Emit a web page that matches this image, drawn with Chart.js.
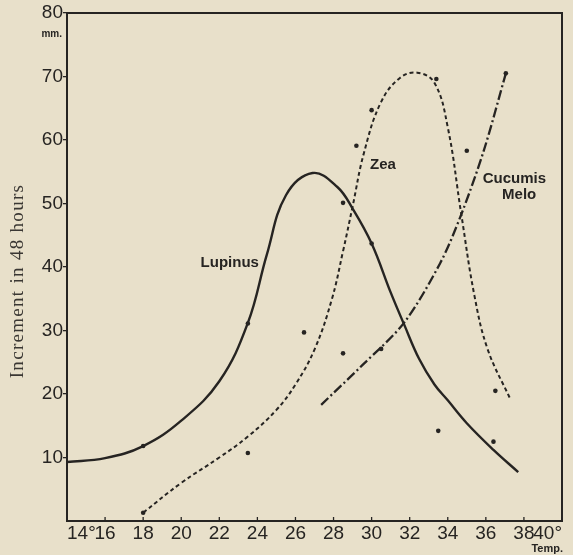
<!DOCTYPE html>
<html>
<head>
<meta charset="utf-8">
<script src="https://cdn.jsdelivr.net/npm/chart.js@4"></script>
<style>
html,body{margin:0;padding:0;background:#e8e0ca;}
canvas{display:block;}
</style>
</head>
<body>
<canvas id="c" width="573" height="555"></canvas>
<script>
// ---- data (temperature °C, increment in mm) ----
const lupinusX = [14, 16, 18, 20, 22, 23.5, 24.5, 25.5, 26.9, 28.2, 29.0, 30.0, 31.0, 31.7, 32.5, 33.3, 34.0, 35.0, 36.4, 37.7];
const lupinusY = [9.3, 9.9, 11.8, 15.8, 22.0, 31.2, 42.0, 51.3, 54.8, 52.6, 49.2, 43.7, 36.0, 31.0, 25.5, 21.5, 19.0, 15.4, 11.2, 7.7];

const zeaX = [18, 20, 22, 23.5, 25, 26, 27, 27.9, 28.5, 29.0, 29.6, 30.5, 31.5, 32.4, 33.3, 34.0, 34.7, 35.4, 36.1, 37.3];
const zeaY = [1.3, 6.0, 10.0, 13.3, 17.5, 21.5, 27.0, 34.8, 42.5, 49.5, 58.0, 66.0, 69.8, 70.6, 69.0, 62.0, 48.5, 35.5, 27.0, 19.1];

const cucumisX = [27.35, 29.5, 31.7, 33.6, 34.7, 35.9, 37.05];
const cucumisY = [18.3, 24.5, 31.2, 40.6, 48.2, 58.4, 70.5];

const obsX = [18, 18, 23.5, 23.5, 26.45, 28.5, 28.5, 30.0, 30.5, 30.0, 33.4, 37.05, 29.2, 35.0, 36.5, 33.5, 36.4];
const obsY = [11.8, 1.3, 31.1, 10.7, 29.7, 50.1, 26.4, 43.7, 27.1, 64.7, 69.6, 70.5, 59.1, 58.3, 20.5, 14.2, 12.5];

const xTicks = [14, 16, 18, 20, 22, 24, 26, 28, 30, 32, 34, 36, 38, 40];
const yTicks = [10, 20, 30, 40, 50, 60, 70, 80];

const curveLabels = [
  {text: 'Lupinus', x: 22.55, y: 40.6},
  {text: 'Zea', x: 30.6, y: 56.1},
  {text: 'Cucumis', x: 37.5, y: 53.9},
  {text: 'Melo', x: 37.75, y: 51.3}
];

const INK = '#262422';
const BG = '#e8e0ca';

const pts = (xs, ys) => xs.map((x, i) => ({x, y: ys[i]}));

const decor = {
  id: 'decor',
  beforeDraw(chart) {
    const ctx = chart.ctx;
    ctx.save();
    ctx.fillStyle = BG;
    ctx.fillRect(0, 0, chart.width, chart.height);
    ctx.restore();
  },
  afterDraw(chart) {
    const ctx = chart.ctx;
    const a = chart.chartArea;
    const xs = chart.scales.x, ys = chart.scales.y;
    ctx.save();
    // frame
    ctx.strokeStyle = INK;
    ctx.lineWidth = 2;
    ctx.strokeRect(a.left, a.top, a.right - a.left, a.bottom - a.top);
    // small inner ticks on x axis
    ctx.lineWidth = 1.3;
    xTicks.forEach(v => {
      const px = xs.getPixelForValue(v);
      ctx.beginPath();
      ctx.moveTo(px, a.bottom);
      ctx.lineTo(px, a.bottom - 4);
      ctx.stroke();
    });
    // curve labels
    ctx.fillStyle = INK;
    ctx.font = '600 15px "Liberation Sans", Arial, sans-serif';
    ctx.textAlign = 'center';
    ctx.textBaseline = 'middle';
    curveLabels.forEach(l => {
      ctx.fillText(l.text, xs.getPixelForValue(l.x), ys.getPixelForValue(l.y));
    });
    // unit labels
    ctx.font = '600 10px "Liberation Sans", Arial, sans-serif';
    ctx.textAlign = 'right';
    ctx.fillText('mm.', a.left - 5, a.top + 21);
    ctx.font = '600 11px "Liberation Sans", Arial, sans-serif';
    ctx.fillText('Temp.', a.right + 1, chart.height - 6);
    // y axis title
    ctx.font = '19px "Liberation Serif", "DejaVu Serif", serif';
    try { ctx.letterSpacing = '1.3px'; } catch (e) {}
    ctx.fillStyle = '#3a3733';
    ctx.translate(18, (a.top + a.bottom) / 2 + 14);
    ctx.rotate(-Math.PI / 2);
    ctx.textAlign = 'center';
    ctx.fillText('Increment in 48 hours', 0, 0);
    ctx.restore();
  }
};

new Chart(document.getElementById('c'), {
  type: 'scatter',
  data: {
    datasets: [
      {
        label: 'Lupinus',
        data: pts(lupinusX, lupinusY),
        showLine: true,
        borderColor: INK,
        borderWidth: 2.4,
        pointRadius: 0,
        tension: 0.4
      },
      {
        label: 'Zea',
        data: pts(zeaX, zeaY),
        showLine: true,
        borderColor: INK,
        borderWidth: 2,
        borderDash: [4, 3],
        pointRadius: 0,
        tension: 0.4
      },
      {
        label: 'Cucumis Melo',
        data: pts(cucumisX, cucumisY),
        showLine: true,
        borderColor: INK,
        borderWidth: 2.3,
        borderDash: [10, 3, 2, 3],
        pointRadius: 0,
        tension: 0.3
      },
      {
        label: 'Observations',
        data: pts(obsX, obsY),
        showLine: false,
        pointRadius: 2.3,
        pointBackgroundColor: INK,
        pointBorderWidth: 0
      }
    ]
  },
  options: {
    responsive: false,
    animation: false,
    events: [],
    layout: {padding: {left: 0, top: 13, right: 11, bottom: 0}},
    plugins: {legend: {display: false}, tooltip: {enabled: false}},
    scales: {
      x: {
        type: 'linear',
        min: 14, max: 40,
        afterFit(s) { s.height = 34; },
        afterBuildTicks(s) { s.ticks = xTicks.map(v => ({value: v})); },
        grid: {display: true, drawOnChartArea: false, drawTicks: false, color: 'rgba(0,0,0,0)'},
        border: {display: false},
        ticks: {
          align: 'inner',
          padding: 1,
          maxRotation: 0,
          autoSkip: false,
          color: INK,
          font: {family: '"Liberation Sans", Arial, sans-serif', size: 19},
          callback: (v) => (v === 14 || v === 40) ? v + '°' : String(v)
        }
      },
      y: {
        type: 'linear',
        min: 0, max: 80,
        afterFit(s) { s.width = 67; },
        afterBuildTicks(s) { s.ticks = yTicks.map(v => ({value: v})); },
        grid: {display: true, drawOnChartArea: false, drawTicks: true, tickLength: 4, color: INK, lineWidth: 1.3},
        border: {display: false},
        ticks: {
          padding: 0,
          color: INK,
          font: {family: '"Liberation Sans", Arial, sans-serif', size: 19},
          callback: (v) => String(v)
        }
      }
    }
  },
  plugins: [decor]
});
</script>
</body>
</html>
